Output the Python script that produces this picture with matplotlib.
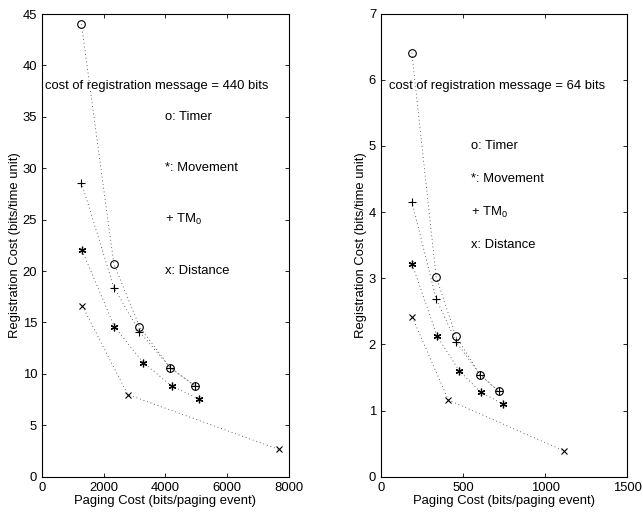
import matplotlib
matplotlib.use("Agg")
import matplotlib.pyplot as plt

plt.rcParams['font.family'] = ['Liberation Sans', 'DejaVu Sans']
plt.rcParams['mathtext.default'] = 'regular'

# Left panel (440 bits)
L_timer_x = [1280, 2330, 3160, 4160, 4960]
L_timer_y = [44.0, 20.7, 14.6, 10.6, 8.84]
L_tm0_x = [1280, 2330, 3160, 4160, 4960]
L_tm0_y = [28.6, 18.4, 14.1, 10.6, 8.84]
L_move_x = [1300, 2350, 3280, 4200, 5080]
L_move_y = [22.0, 14.6, 11.1, 8.84, 7.55]
L_dist_x = [1310, 2780, 7680]
L_dist_y = [16.6, 7.99, 2.65]

# Right panel (64 bits)
R_timer_x = [188, 336, 457, 604, 718]
R_timer_y = [6.41, 3.02, 2.12, 1.54, 1.29]
R_tm0_x = [188, 336, 457, 604, 718]
R_tm0_y = [4.16, 2.69, 2.04, 1.54, 1.29]
R_move_x = [190, 343, 477, 607, 740]
R_move_y = [3.21, 2.12, 1.60, 1.28, 1.10]
R_dist_x = [191, 410, 1115]
R_dist_y = [2.41, 1.16, 0.39]

titles = ["cost of registration message = 440 bits",
          "cost of registration message = 64 bits"]
legend_labels = ["o: Timer", "*: Movement", "+ TM$_0$", "x: Distance"]
xlabel = "Paging Cost (bits/paging event)"
ylabel = "Registration Cost (bits/time unit)"

fig = plt.figure(figsize=(6.43, 5.15), dpi=100)
axL = fig.add_axes([0.0653, 0.0744, 0.3837, 0.8984])
axR = fig.add_axes([0.5925, 0.0744, 0.3831, 0.8990])

ast = (6, 2, 0)
FS = 9.4

def draw(ax, tx, ty, mx, my, px, py, dx, dy, xlim, ylim, xt, yt, note_xy, leg_x, leg_ys, title):
    ls = dict(color='#333333', linestyle=(0, (1, 3.5)), linewidth=0.6)
    ax.plot(tx, ty, **ls)
    ax.plot(px, py, **ls)
    ax.plot(mx, my, **ls)
    ax.plot(dx, dy, **ls)
    ax.plot(tx, ty, linestyle='none', marker='o', markersize=5.5, markerfacecolor='none',
            markeredgecolor='black', markeredgewidth=0.8)
    ax.plot(px, py, linestyle='none', marker='+', markersize=6, color='black', markeredgewidth=0.8)
    ax.plot(mx, my, linestyle='none', marker=ast, markersize=5.5, color='black', markeredgewidth=0.9)
    ax.plot(dx, dy, linestyle='none', marker='x', markersize=4, color='black', markeredgewidth=0.8)
    ax.set_xlim(*xlim)
    ax.set_ylim(*ylim)
    ax.set_xticks(xt)
    ax.set_yticks(yt)
    ax.tick_params(direction='in', top=True, right=True, labelsize=FS, length=3, width=0.6)
    for s in ax.spines.values():
        s.set_linewidth(0.8)
    ax.set_xlabel(xlabel, fontsize=FS, labelpad=1)
    ax.set_ylabel(ylabel, fontsize=FS, labelpad=1)
    ax.text(note_xy[0], note_xy[1], title, fontsize=FS, ha='left', va='center')
    for lab, y in zip(legend_labels, leg_ys):
        ax.text(leg_x, y, lab, fontsize=FS, ha='left', va='center')

draw(axL, L_timer_x, L_timer_y, L_move_x, L_move_y, L_tm0_x, L_tm0_y, L_dist_x, L_dist_y,
     (0, 8000), (0, 45), [0, 2000, 4000, 6000, 8000], list(range(0, 46, 5)),
     (100, 38.0), 4000, [35, 30, 25, 20], titles[0])
draw(axR, R_timer_x, R_timer_y, R_move_x, R_move_y, R_tm0_x, R_tm0_y, R_dist_x, R_dist_y,
     (0, 1500), (0, 7), [0, 500, 1000, 1500], list(range(0, 8)),
     (50, 5.9), 550, [5.0, 4.5, 4.0, 3.5], titles[1])

fig.savefig("out.png", dpi=100)
